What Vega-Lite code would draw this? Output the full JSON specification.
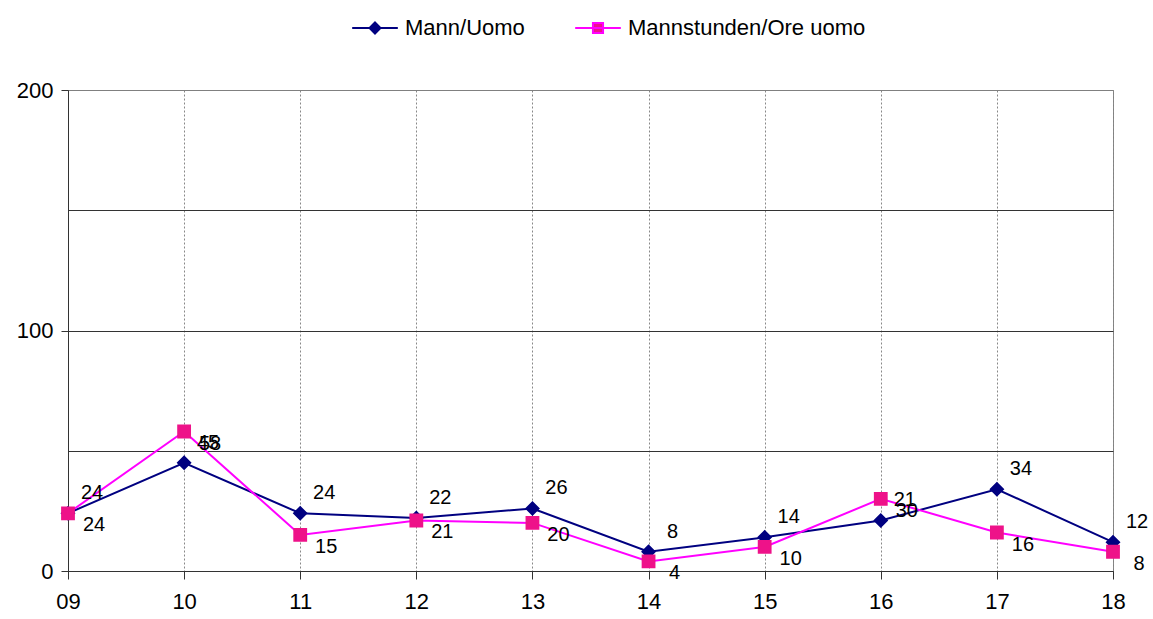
{
  "$schema": "https://vega.github.io/schema/vega-lite/v6.json",
  "width": 1045,
  "height": 481,
  "autosize": {"type": "none"},
  "padding": {"left": 68, "top": 90, "right": 40, "bottom": 48},
  "background": "white",
  "config": {
    "view": {"stroke": "#808080", "strokeWidth": 1},
    "font": "Liberation Sans",
    "legend": {
      "orient": "none",
      "legendX": 296,
      "legendY": -73,
      "direction": "horizontal",
      "title": null,
      "symbolSize": 77,
      "labelFontSize": 22,
      "labelOffset": 19,
      "labelLimit": 500,
      "columnPadding": 46,
      "labelColor": "black",
      "symbolOpacity": 1,
      "symbolStrokeWidth": 2
    }
  },
  "data": {
    "values": [
      {"year": "09", "series": "Mann/Uomo", "value": 24},
      {"year": "10", "series": "Mann/Uomo", "value": 45},
      {"year": "11", "series": "Mann/Uomo", "value": 24},
      {"year": "12", "series": "Mann/Uomo", "value": 22},
      {"year": "13", "series": "Mann/Uomo", "value": 26},
      {"year": "14", "series": "Mann/Uomo", "value": 8},
      {"year": "15", "series": "Mann/Uomo", "value": 14},
      {"year": "16", "series": "Mann/Uomo", "value": 21},
      {"year": "17", "series": "Mann/Uomo", "value": 34},
      {"year": "18", "series": "Mann/Uomo", "value": 12},
      {"year": "09", "series": "Mannstunden/Ore uomo", "value": 24},
      {"year": "10", "series": "Mannstunden/Ore uomo", "value": 58},
      {"year": "11", "series": "Mannstunden/Ore uomo", "value": 15},
      {"year": "12", "series": "Mannstunden/Ore uomo", "value": 21},
      {"year": "13", "series": "Mannstunden/Ore uomo", "value": 20},
      {"year": "14", "series": "Mannstunden/Ore uomo", "value": 4},
      {"year": "15", "series": "Mannstunden/Ore uomo", "value": 10},
      {"year": "16", "series": "Mannstunden/Ore uomo", "value": 30},
      {"year": "17", "series": "Mannstunden/Ore uomo", "value": 16},
      {"year": "18", "series": "Mannstunden/Ore uomo", "value": 8}
    ]
  },
  "encoding": {
    "x": {
      "field": "year",
      "type": "ordinal",
      "sort": null,
      "scale": {"type": "point", "padding": 0},
      "axis": {
        "title": null,
        "labelAngle": 0,
        "labelFontSize": 22,
        "labelColor": "black",
        "labelPadding": 12,
        "tickSize": 8,
        "tickColor": "#333333",
        "domainColor": "#333333",
        "grid": true,
        "gridColor": "#888888",
        "gridDash": [2, 2]
      }
    },
    "y": {
      "field": "value",
      "type": "quantitative",
      "scale": {"domain": [0, 200], "nice": false},
      "axis": {
        "title": null,
        "values": [0, 50, 100, 150, 200],
        "labelExpr": "datum.value % 100 === 0 ? datum.label : ''",
        "tickOpacity": {"condition": {"test": "datum.value % 100 === 0", "value": 1}, "value": 0},
        "grid": true,
        "gridColor": {"condition": {"test": "datum.value === 200", "value": "#808080"}, "value": "#333333"},
        "labelFontSize": 22,
        "labelColor": "black",
        "labelPadding": 8,
        "tickSize": 7,
        "tickColor": "#333333",
        "domainColor": "#333333"
      }
    }
  },
  "layer": [
    {
      "mark": {"type": "line", "strokeWidth": 2},
      "encoding": {
        "stroke": {
          "field": "series",
          "type": "nominal",
          "scale": {"domain": ["Mann/Uomo", "Mannstunden/Ore uomo"], "range": ["#000080", "#FF00FF"]}
        }
      }
    },
    {
      "mark": {"type": "point", "filled": true, "size": 144, "opacity": 1, "strokeWidth": 0},
      "encoding": {
        "fill": {
          "field": "series",
          "type": "nominal",
          "scale": {"domain": ["Mann/Uomo", "Mannstunden/Ore uomo"], "range": ["#000080", "#EE1289"]},
          "legend": {
            "encode": {
              "symbols": {
                "update": {
                  "shape": {"scale": "shape", "field": "value"},
                  "fill": {"scale": "fill", "field": "value"},
                  "stroke": {"scale": "stroke", "field": "value"},
                  "strokeWidth": {"value": 2},
                  "opacity": {"value": 1}
                }
              }
            }
          }
        },
        "stroke": {
          "field": "series",
          "type": "nominal"
        },
        "shape": {
          "field": "series",
          "type": "nominal",
          "scale": {"domain": ["Mann/Uomo", "Mannstunden/Ore uomo"], "range": ["M-5.2,0H5.2M0,-1.25L1.25,0L0,1.25L-1.25,0Z", "M-5.2,0H5.2M-1.15,-1.15H1.15V1.15H-1.15Z"]}
        }
      }
    },
    {
      "transform": [{"filter": "datum.series === 'Mann/Uomo'"}],
      "mark": {"type": "text", "dx": 24, "dy": -20, "fontSize": 20, "color": "black"},
      "encoding": {"text": {"field": "value", "type": "quantitative"}}
    },
    {
      "transform": [{"filter": "datum.series === 'Mannstunden/Ore uomo'"}],
      "mark": {"type": "text", "dx": 26, "dy": 12, "fontSize": 20, "color": "black"},
      "encoding": {"text": {"field": "value", "type": "quantitative"}}
    }
  ]
}
